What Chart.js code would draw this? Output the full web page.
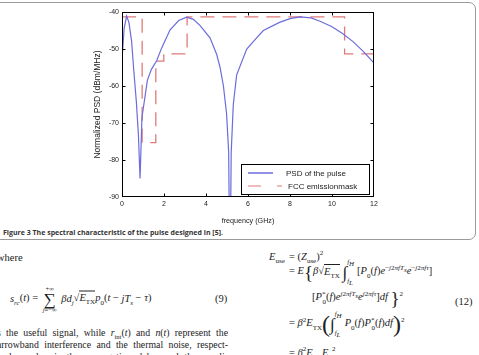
<!DOCTYPE html>
<html><head><meta charset="utf-8">
<script src="https://cdn.jsdelivr.net/npm/chart.js"></script>
<style>
html,body{margin:0;padding:0;width:479px;height:355px;overflow:hidden;background:#fff;position:relative;}
#frame{position:absolute;left:-8px;top:2px;width:484px;height:238px;box-sizing:border-box;border:1.5px solid #9a9a9a;border-radius:7px;}
#c{position:absolute;left:0;top:0;}
#cap{position:absolute;left:3px;top:227px;font-family:'Open Sans','Noto Sans',sans-serif;font-weight:bold;font-size:7.8px;color:#333;white-space:nowrap;transform-origin:0 50%;line-height:10px;}
.t{position:absolute;white-space:nowrap;font-family:'Liberation Serif',serif;font-size:10.5px;color:#222;line-height:1;transform:translateY(-50%);}
.t i{font-style:italic}
.t sub,.t sup{font-size:7px;line-height:0}
.op{display:inline-flex;flex-direction:column;align-items:center;vertical-align:middle;line-height:1;margin:0 2px}
.lim{font-size:6.5px}
.big{font-size:17px;line-height:14px}
.int{font-size:17px;vertical-align:middle;font-style:italic}
.ls{display:inline-flex;flex-direction:column;justify-content:space-between;height:26px;vertical-align:middle;font-size:6.8px;font-style:italic;margin-right:3px}
.ov{border-top:0.8px solid #222;padding-top:0.5px}
.br{font-size:19px;vertical-align:middle;line-height:1}
.par{font-size:24px;vertical-align:middle;line-height:1;font-weight:lighter}
.just{position:absolute;left:-3px;width:231px;font-family:'Liberation Serif',serif;font-size:9.8px;color:#222;text-align:justify;text-align-last:justify;white-space:nowrap;line-height:12px;}
.just i{font-style:italic}
.just sub{font-size:6.5px;line-height:0}
</style></head>
<body>
<div id="frame"></div>
<canvas id="c" width="479" height="225"></canvas>
<div id="cap">Figure 3 The spectral characteristic of the pulse designed in [5].</div>

<div class="t" style="left:-3px;top:258px;">where</div>
<div class="t" style="left:10px;top:299px;"><i>s<sub>rc</sub></i>(<i>t</i>) = <span class="op"><span class="lim">+∞</span><span class="big">∑</span><span class="lim"><i>j</i>=−∞</span></span> <i>βd<sub>j</sub></i>√<span class="ov"><i>E</i><sub>TX</sub></span><i>p</i><sub>0</sub>(<i>t</i> − <i>jT<sub>s</sub></i> − <i>τ</i>)</div>
<div class="t" style="left:215px;top:299px;">(9)</div>
<div class="just" style="top:327px;">s the useful signal, while <i>r</i><sub>int</sub>(<i>t</i>) and <i>n</i>(<i>t</i>) represent the</div>
<div class="just" style="top:339px;">arrowband interference and the thermal noise, respect-</div>
<div class="just" style="top:351px;">ively, and τ is the propagation delay and the ampli-</div>

<div class="t" style="left:269px;top:257px;"><i>E</i><sub>use</sub></div>
<div class="t" style="left:289px;top:257px;">= (<i>Z</i><sub>use</sub>)<sup>2</sup></div>
<div class="t" style="left:289px;top:272px;">= <i>E</i><span class="br">{</span><i>β</i>√<span class="ov"><i>E</i><sub>TX</sub></span> <span class="int">∫</span><span class="ls"><span>f<sub>H</sub></span><span>f<sub>L</sub></span></span>[<i>P</i><sub>0</sub>(<i>f</i>)<i>e</i><sup>−<i>j</i>2<i>πfT<sub>s</sub></i></sup><i>e</i><sup>−<i>j</i>2<i>πfτ</i></sup>]</div>
<div class="t" style="left:312px;top:298px;">[<i>P</i><sup>*</sup><sub style="margin-left:-3px">0</sub>(<i>f</i>)<i>e</i><sup><i>j</i>2<i>πfT<sub>s</sub></i></sup><i>e</i><sup><i>j</i>2<i>πfτ</i></sup>]<i>df</i> <span class="br">}</span><sup>2</sup></div>
<div class="t" style="left:455px;top:302px;">(12)</div>
<div class="t" style="left:289px;top:324px;">= <i>β</i><sup>2</sup><i>E</i><sub>TX</sub><span class="par">(</span><span class="int">∫</span><span class="ls"><span>f<sub>H</sub></span><span>f<sub>L</sub></span></span><i>P</i><sub>0</sub>(<i>f</i>)<i>P</i><sup>*</sup><sub style="margin-left:-3px">0</sub>(<i>f</i>)<i>df</i><span class="par">)</span><sup>2</sup></div>
<div class="t" style="left:289px;top:353px;">= <i>β</i><sup>2</sup><i>E</i><sub>TX</sub><i>E</i><sub>p</sub><sup>2</sup></div>

<script>
// ---- data ----
const psdFreq = [0, 0.1, 0.22, 0.33, 0.46, 0.55, 0.68, 0.78, 0.86, 0.95, 1.21, 1.4, 1.65, 1.89, 2.29, 2.7, 3.08, 3.4, 3.71, 4.19, 4.51, 4.67, 4.83, 4.98, 5.08, 5.14, 5.2, 5.3, 5.46, 5.94, 6.41, 6.73, 7.5, 8.0, 8.48, 9.0, 9.43, 10.0, 10.5, 11.0, 11.5, 12.0];
const psdValues = [-53, -44.5, -41.1, -42.8, -48, -55, -64, -73, -85, -68.5, -58.4, -55.5, -53.2, -49.7, -44.8, -42.3, -41.4, -42, -43.6, -47, -51.5, -55, -60, -67.5, -78, -115, -78, -65, -57, -50, -47, -45, -42.8, -41.8, -41.3, -41.6, -42.5, -44, -45.8, -48, -50.7, -53.8];
const maskFreq = [0, 0.96, 1.61, 1.99, 3.1, 10.6, 12];
const maskValues = [-41.3, -75.3, -53.3, -51.3, -41.3, -51.3, -51.3];
const xTicks = [0, 2, 4, 6, 8, 10, 12];
const yTicks = [-90, -80, -70, -60, -50, -40];
const seriesLabels = ['PSD of the pulse', 'FCC emissionmask'];

const blue = '#6c6cdc', red = '#e07a7a';
const font = 'Liberation Sans';

const boxPlugin = {
  id: 'box',
  afterDatasetsDraw(chart) {
    const {ctx, chartArea: a, scales: {x, y}} = chart;
    ctx.save();
    ctx.strokeStyle = '#000'; ctx.lineWidth = 1;
    const L = Math.round(a.left) + 0.5, R = Math.round(a.right) - 0.5, T = Math.round(a.top) + 0.5, B = Math.round(a.bottom) - 0.5;
    ctx.strokeRect(L, T, R - L, B - T);
    ctx.beginPath();
    xTicks.slice(1, -1).forEach(v => {
      const p = Math.round(x.getPixelForValue(v)) + 0.5;
      ctx.moveTo(p, B); ctx.lineTo(p, B - 3);
      ctx.moveTo(p, T); ctx.lineTo(p, T + 3);
    });
    yTicks.slice(1, -1).forEach(v => {
      const p = Math.round(y.getPixelForValue(v)) + 0.5;
      ctx.moveTo(L, p); ctx.lineTo(L + 3, p);
      ctx.moveTo(R, p); ctx.lineTo(R - 3, p);
    });
    ctx.stroke();
    ctx.restore();
  }
};

const legendPlugin = {
  id: 'innerLegend',
  afterDraw(chart) {
    const {ctx} = chart;
    const ds = chart.data.datasets;
    const x0 = 241.5, y0 = 164.5, w = 128, h = 30;
    ctx.save();
    ctx.fillStyle = '#fff'; ctx.fillRect(x0, y0, w, h);
    ctx.strokeStyle = '#000'; ctx.lineWidth = 1; ctx.strokeRect(x0, y0, w, h);
    ctx.font = '8px "' + font + '"';
    ctx.fillStyle = '#222'; ctx.textBaseline = 'middle';
    ctx.strokeStyle = ds[0].borderColor; ctx.lineWidth = 1.5;
    ctx.beginPath(); ctx.moveTo(248, 173); ctx.lineTo(273, 173); ctx.stroke();
    ctx.fillText(ds[0].label, 286, 173.5);
    ctx.strokeStyle = ds[1].borderColor; ctx.lineWidth = 1.1;
    ctx.setLineDash([13, 16]);
    ctx.beginPath(); ctx.moveTo(248, 186); ctx.lineTo(282, 186); ctx.stroke();
    ctx.setLineDash([]);
    ctx.fillText(ds[1].label, 288, 186.5);
    ctx.restore();
  }
};

new Chart(document.getElementById('c').getContext('2d'), {
  type: 'line',
  data: {
    datasets: [
      {label: seriesLabels[0], data: psdFreq.map((f, i) => ({x: f, y: psdValues[i]})),
       borderColor: blue, borderWidth: 1.2, pointRadius: 0, tension: 0, fill: false},
      {label: seriesLabels[1], data: maskFreq.map((f, i) => ({x: f, y: maskValues[i]})),
       borderColor: red, borderWidth: 1.3, borderDash: [14, 8], stepped: 'before', pointRadius: 0, fill: false}
    ]
  },
  options: {
    responsive: false, animation: false, events: [],
    layout: {padding: {left: 93, top: 12, right: 105, bottom: 0}},
    plugins: {legend: {display: false}, tooltip: {enabled: false}},
    scales: {
      x: {
        type: 'linear', min: 0, max: 12,
        afterBuildTicks: s => { s.ticks = xTicks.map(v => ({value: v})); },
        grid: {display: false, drawTicks: false},
        border: {display: false},
        ticks: {font: {family: font, size: 7}, color: '#222', padding: 3, maxRotation: 0},
        title: {display: true, text: 'frequency (GHz)', font: {family: font, size: 7.2}, color: '#222', padding: {top: 3, bottom: 0}},
        afterFit: s => { s.height = 28; }
      },
      y: {
        type: 'linear', min: -90, max: -40,
        afterBuildTicks: s => { s.ticks = yTicks.map(v => ({value: v})); },
        grid: {display: false, drawTicks: false},
        border: {display: false},
        ticks: {font: {family: font, size: 7}, color: '#222', padding: 3},
        title: {display: true, text: 'Normalized PSD (dBm/MHz)', font: {family: font, size: 8.5}, color: '#222', padding: 0},
        afterFit: s => { s.width = 29; }
      }
    }
  },
  plugins: [boxPlugin, legendPlugin]
});

const cap = document.getElementById('cap');
const fit = () => { cap.style.transform = 'none'; const w = cap.getBoundingClientRect().width; cap.style.transform = 'scaleX(' + (220 / w) + ')'; };
fit();
if (document.fonts && document.fonts.ready) document.fonts.ready.then(fit);
</script>
</body></html>
